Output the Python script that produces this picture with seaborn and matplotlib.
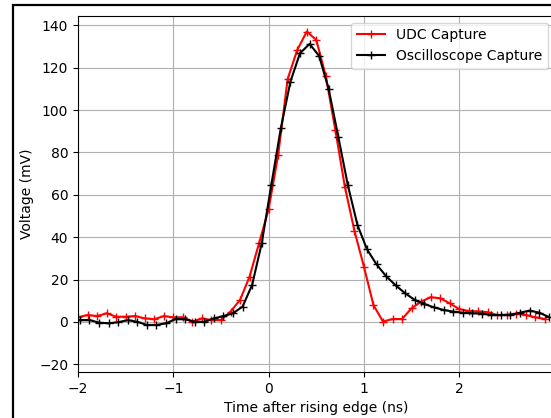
import numpy as np
import pandas as pd
import matplotlib
matplotlib.use("Agg")
import matplotlib.pyplot as plt
from matplotlib.patches import Rectangle
import seaborn as sns

# Sample times (ns)
udc_time = [round(-2.0 + 0.1 * k, 3) for k in range(50)]
osc_time = [round(-1.98 + 0.1004 * k, 3) for k in range(50)]

# Voltages (mV)
udc_voltage = [2.2, 3.3, 2.8, 4.1, 2.5, 2.5, 2.8, 1.7, 1.3, 2.8,
               2.2, 2.2, 0.1, 1.7, 0.9, 0.9, 4.9, 10.4, 21.4, 37.2,
               53.2, 78.8, 114.7, 128.3, 137.0, 133.1, 116.1, 90.6, 63.8, 43.1,
               26.1, 8.0, 0.2, 1.4, 1.4, 6.5, 9.6, 11.7, 11.2, 8.8,
               6.1, 5.2, 5.0, 4.6, 3.3, 3.5, 4.0, 3.3, 2.2, 1.4]
osc_voltage = [0.9, 0.9, -0.3, -0.6, -0.1, 0.9, 0.1, -1.4, -1.4, -0.6,
               1.4, 1.3, 0.1, 0.1, 1.7, 2.8, 4.1, 7.3, 17.5, 37.2,
               64.6, 91.4, 113.4, 126.8, 131.2, 125.5, 109.9, 87.4, 64.6, 45.8,
               34.3, 27.2, 21.6, 17.3, 13.5, 10.4, 8.5, 6.9, 5.7, 4.9,
               4.4, 4.1, 4.0, 3.3, 3.3, 3.3, 4.4, 5.4, 4.4, 2.4]

series_names = ["UDC Capture", "Oscilloscope Capture"]

fig = plt.figure(figsize=(5.51, 4.18), dpi=100)
ax = fig.add_axes([0.1416, 0.110, 0.8648, 0.8524])

sns.lineplot(x=udc_time, y=udc_voltage, ax=ax, color="red", marker="+",
             markersize=5.5, markeredgecolor="red", markeredgewidth=1.0,
             linewidth=1.5, label=series_names[0])
sns.lineplot(x=osc_time, y=osc_voltage, ax=ax, color="black", marker="+",
             markersize=5.5, markeredgecolor="black", markeredgewidth=1.0,
             linewidth=1.5, label=series_names[1])

ax.set_xlim(-2, 3)
ax.set_ylim(-23.6, 144.5)
ax.set_xticks([-2, -1, 0, 1, 2])
ax.set_yticks([-20, 0, 20, 40, 60, 80, 100, 120, 140])
ax.grid(True, color="#b0b0b0", linewidth=0.8)
ax.set_axisbelow(True)
ax.set_xlabel("Time after rising edge (ns)")
ax.set_ylabel("Voltage (mV)")
ax.legend(loc="upper right")

frame = Rectangle((0.0245, -0.2), 1.2, 1.189, transform=fig.transFigure,
                  fill=False, edgecolor="black", linewidth=1.6, clip_on=False)
fig.patches.append(frame)

fig.savefig("out.png", dpi=100)
